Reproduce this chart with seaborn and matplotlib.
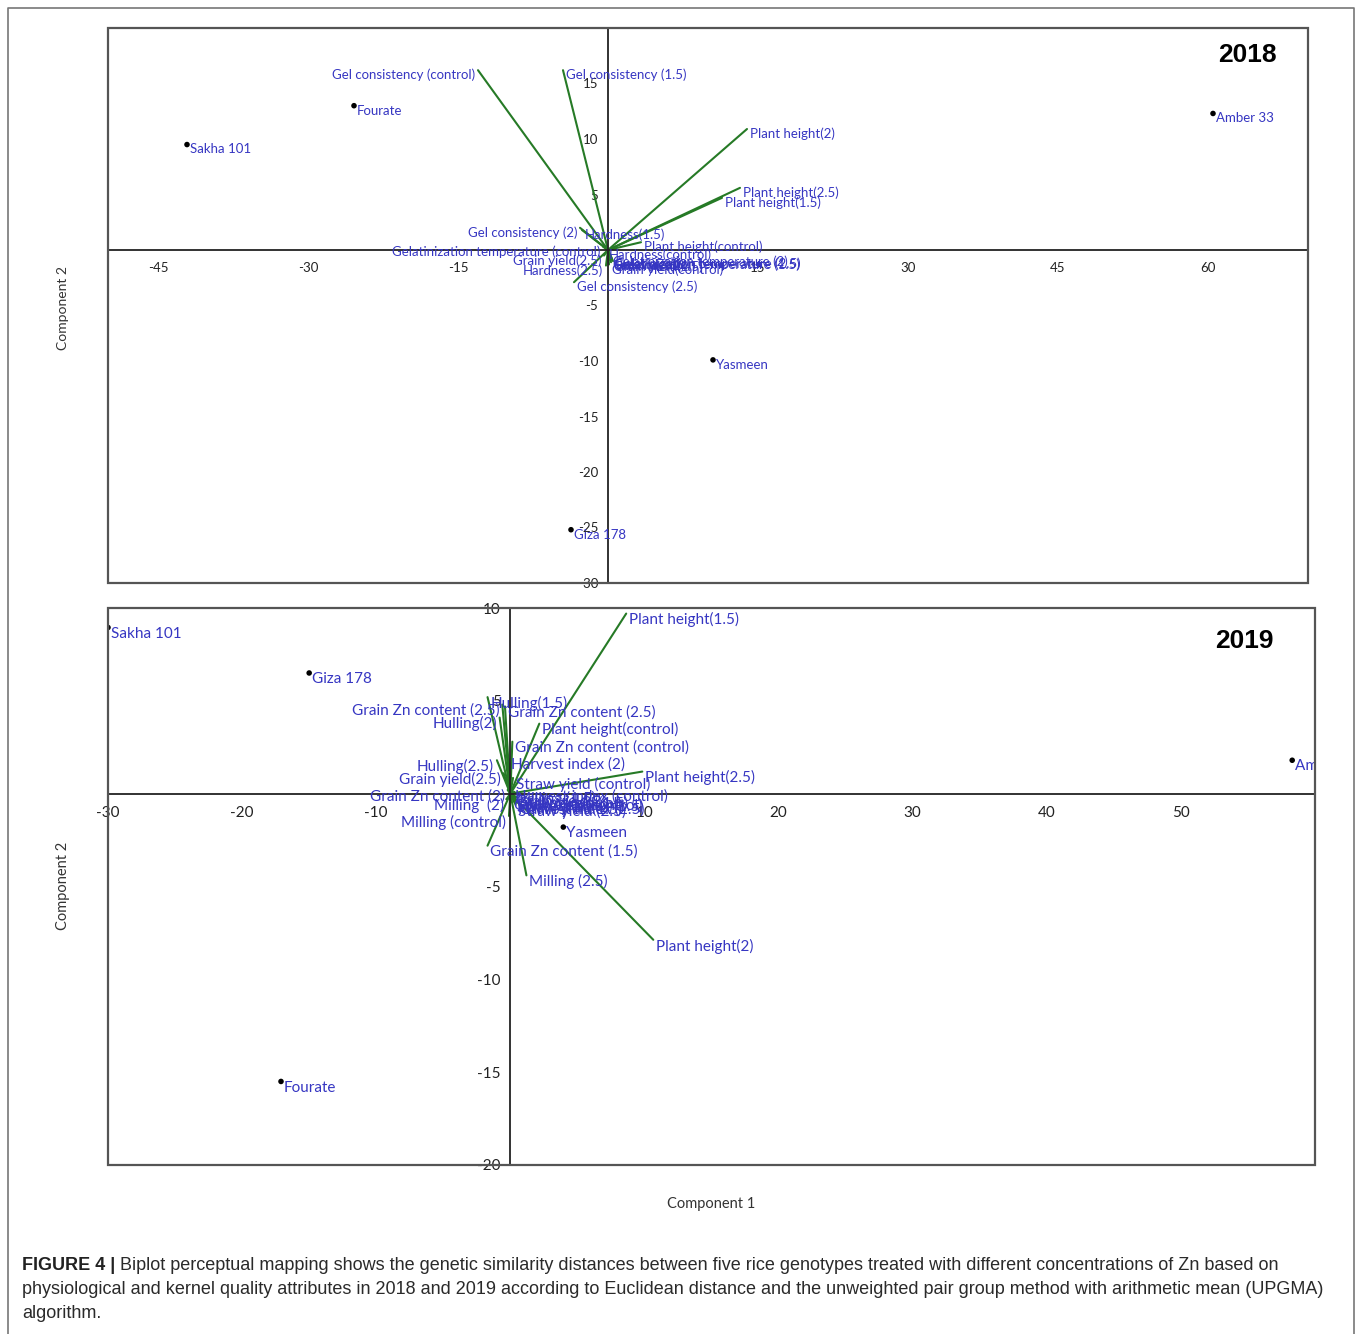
import matplotlib
matplotlib.use("Agg")
import matplotlib.pyplot as plt
import seaborn as sns
import pandas as pd
from matplotlib.patches import Rectangle
from matplotlib.lines import Line2D

# ---- 2018 data ----
genotypes_2018 = ["Sakha 101", "Fourate", "Amber 33", "Yasmeen", "Giza 178"]
pc1_2018 = [-42.1, -25.4, 60.5, 10.5, -3.7]
pc2_2018 = [9.5, 13.0, 12.3, -9.9, -25.2]

traits_2018 = [
    "Gel consistency (control)", "Gel consistency (1.5)", "Gel consistency (2)", "Gel consistency (2.5)",
    "Plant height(control)", "Plant height(1.5)", "Plant height(2)", "Plant height(2.5)",
    "Hardness(control)", "Hardness(1.5)", "Hardness(2)", "Hardness(2.5)",
    "Gelatinization temperature (control)", "Gelatinization temperature (1.5)",
    "Gelatinization temperature (2)", "Gelatinization temperature (2.5)",
    "Grain yield(control)", "Grain yield(1.5)", "Grain yield(2)", "Grain yield(2.5)",
]
load1_2018 = [-13.0, -4.5, -2.8, -3.4, 3.3, 11.4, 13.9, 13.2,
              -0.2, -2.6, 0.5, -0.2, -0.5, 0.3, 0.2, 0.4, 0.1, 0.3, 0.2, -0.4]
load2_2018 = [16.2, 16.2, 2.0, -2.9, 0.7, 4.7, 10.9, 5.6,
              0.05, 1.8, -1.0, -1.4, 0.3, -0.9, -0.6, -0.8, -1.3, -1.1, -0.9, -0.5]

xticks_2018 = [-45, -30, -15, 15, 30, 45, 60]
yticks_2018 = [15, 10, 5, -5, -10, -15, -20, -25, -30]

# ---- 2019 data ----
genotypes_2019 = ["Sakha 101", "Giza 178", "Fourate", "Yasmeen", "Amber 33"]
pc1_2019 = [-30.0, -15.0, -17.1, 3.95, 58.3]
pc2_2019 = [8.95, 6.5, -15.5, -1.8, 1.8]

traits_2019 = [
    "Plant height(control)", "Plant height(1.5)", "Plant height(2)", "Plant height(2.5)",
    "Hulling(control)", "Hulling(1.5)", "Hulling(2)", "Hulling(2.5)",
    "Grain Zn content (control)", "Grain Zn content (1.5)", "Grain Zn content (2)",
    "Grain Zn content (2.5)", "Grain Zn content (2.5)",
    "Harvest index (control)", "Harvest index (1.5)", "Harvest index (2)", "Harvest index (2.5)",
    "Straw yield (control)", "Straw yield (1.5)", "Straw yield (2)", "Straw yield (2.5)",
    "Grain yield(control)", "Grain yield(1.5)", "Grain yield(2)", "Grain yield(2.5)",
    "Milling (control)", "Milling (1.5)", "Milling  (2)", "Milling (2.5)",
]
load1_2019 = [2.16, 8.64, 10.66, 9.84,
              0.4, -1.7, -0.8, -1.0,
              0.15, -1.7, -0.2, -0.6, -0.4,
              0.15, 0.3, -0.15, 0.35,
              0.2, 0.5, 0.3, 0.4,
              0.1, 0.5, 0.2, -0.5,
              -0.1, 0.3, -0.3, 1.2]
load2_2019 = [3.77, 9.7, -7.87, 1.19,
              -0.2, 5.2, 4.1, 1.8,
              2.8, -2.8, 0.2, 4.8, 4.7,
              0.2, -0.35, 1.9, -0.5,
              0.85, -0.2, -0.4, -0.6,
              -0.3, -0.5, -0.1, 1.1,
              -1.2, 0.1, -0.3, -4.4]

xticks_2019 = [-30, -20, -10, 10, 20, 30, 40, 50]
yticks_2019 = [10, 5, -5, -10, -15, -20]

# label sides (style): 'r' = text to the left of the arrow tip
side_2018 = ["r", "l", "r", "l", "l", "l", "l", "l", "l", "l",
             "l", "r", "r", "l", "l", "l", "l", "l", "l", "r"]
side_2019 = ["l", "l", "l", "l", "l", "l", "r", "r", "l", "l", "r", "r", "l",
             "l", "l", "l", "l", "l", "l", "l", "l", "l", "l", "l", "r",
             "r", "l", "r", "l"]

BLUE = "#3636c2"
GREEN = "#267a26"
W, H = 1358, 1334

sns.set_style("white")
plt.rcParams["font.family"] = ["Lato", "DejaVu Sans"]

fig = plt.figure(figsize=(W / 100, H / 100), dpi=100)


def draw_panel(rect, genos, p1, p2, traits, l1, l2, sides, xlim, ylim,
               xticks, yticks, fs, tfs, dy, year, year_xy):
    ax = fig.add_axes(rect)
    ax.set_xlim(*xlim)
    ax.set_ylim(*ylim)
    # trait vectors
    for name, a, b, s in zip(traits, l1, l2, sides):
        ax.plot([0, a], [0, b], color=GREEN, lw=1.5, zorder=2)
        ha = "right" if s == "r" else "left"
        dx = -2 if s == "r" else 2
        ax.annotate(name, (a, b), xytext=(dx, dy), textcoords="offset points",
                    ha=ha, va="center", color=BLUE, fontsize=fs, zorder=3,
                    annotation_clip=False, clip_on=True)
    # genotype scores
    df = pd.DataFrame({"pc1": p1, "pc2": p2, "genotype": genos})
    sns.scatterplot(data=df, x="pc1", y="pc2", ax=ax, color="black", s=16,
                    edgecolor="none", zorder=4)
    for g, a, b in zip(genos, p1, p2):
        ax.annotate(g, (a, b), xytext=(2, dy), textcoords="offset points",
                    ha="left", va="center", color=BLUE, fontsize=fs,
                    clip_on=True, zorder=4)
    # axes through origin
    for side in ["top", "right"]:
        ax.spines[side].set_visible(False)
    ax.spines["left"].set_position(("data", 0))
    ax.spines["bottom"].set_position(("data", 0))
    for side in ["left", "bottom"]:
        ax.spines[side].set_color("#222222")
        ax.spines[side].set_linewidth(1.3)
    ax.add_patch(Rectangle((0, 0), 1, 1, transform=ax.transAxes, fill=False,
                           edgecolor="#555555", lw=1.6, clip_on=False, zorder=5))
    ax.set_xticks(xticks)
    ax.set_yticks(yticks)
    ax.set_xticklabels([str(t) for t in xticks])
    ax.set_yticklabels([str(t) for t in yticks])
    ax.tick_params(axis="both", direction="out", length=4, width=1,
                   colors="#222222", labelsize=tfs)
    ax.tick_params(axis="x", pad=5)
    ax.tick_params(axis="y", pad=3)
    ax.set_xlabel("")
    ax.set_ylabel("")
    ax.text(year_xy[0], year_xy[1], year, transform=ax.transAxes, ha="right", va="top",
            fontsize=19, weight="bold", family="Liberation Sans", color="black")
    return ax


draw_panel([108 / W, 1 - 583 / H, 1200 / W, 555 / H],
           genotypes_2018, pc1_2018, pc2_2018, traits_2018, load1_2018, load2_2018,
           side_2018, (-50, 70), (-30, 20), xticks_2018, yticks_2018,
           9.5, 9.5, -3.5, "2018", (1 - 31 / 1200, 1 - 15 / 555))
draw_panel([108 / W, 1 - 1165 / H, 1207 / W, 557 / H],
           genotypes_2019, pc1_2019, pc2_2019, traits_2019, load1_2019, load2_2019,
           side_2019, (-30, 60), (-20, 10), xticks_2019, yticks_2019,
           11, 11, -4.5, "2019", (1 - 41 / 1207, 1 - 21 / 557))

fig.text(63 / W, 1 - 308 / H, "Component 2", rotation=90, ha="center", va="center",
         fontsize=10, color="#333333")
fig.text(63 / W, 1 - 886 / H, "Component 2", rotation=90, ha="center", va="center",
         fontsize=10.5, color="#333333")
fig.text(711 / W, 1 - 1204 / H, "Component 1", ha="center", va="center",
         fontsize=10.5, color="#333333")

# outer frame
fig.add_artist(Line2D([8 / W, 8 / W, 1354 / W, 1354 / W], [0, 1 - 8 / H, 1 - 8 / H, 0],
                      transform=fig.transFigure, color="#777777", lw=1.2))

# caption
cap_fs = 13
t1 = fig.text(22 / W, 1 - 1265 / H, "FIGURE 4 |", ha="left", va="center",
              fontsize=cap_fs, weight="bold", family="Liberation Sans", color="#222222")
fig.canvas.draw()
bb = t1.get_window_extent()
fig.text((bb.x1 + 5) / W, 1 - 1265 / H,
         "Biplot perceptual mapping shows the genetic similarity distances between five rice "
         "genotypes treated with different concentrations of Zn based on",
         ha="left", va="center", fontsize=cap_fs, family="Liberation Sans", color="#2a2a2a")
fig.text(22 / W, 1 - 1290 / H,
         "physiological and kernel quality attributes in 2018 and 2019 according to Euclidean "
         "distance and the unweighted pair group method with arithmetic mean (UPGMA)",
         ha="left", va="center", fontsize=cap_fs, family="Liberation Sans", color="#2a2a2a")
fig.text(22 / W, 1 - 1314 / H, "algorithm.", ha="left", va="center",
         fontsize=cap_fs, family="Liberation Sans", color="#2a2a2a")

fig.savefig("out.png", dpi=100)
